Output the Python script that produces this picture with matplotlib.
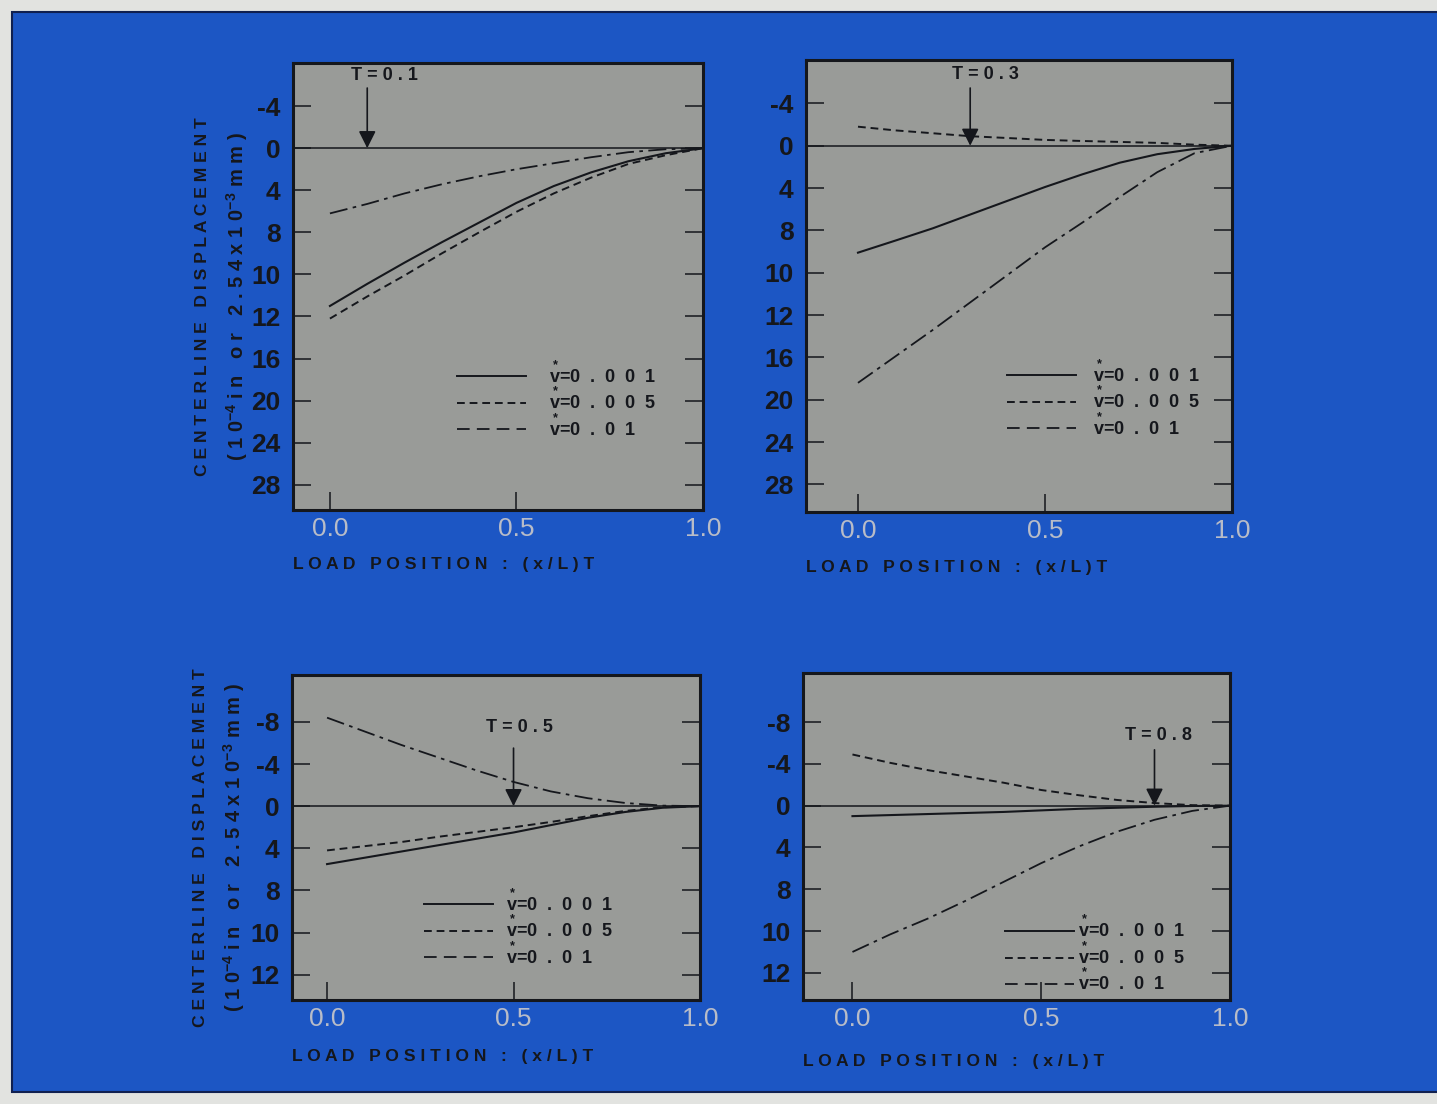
import matplotlib
matplotlib.use("Agg")
import matplotlib.pyplot as plt
import numpy as np
from matplotlib.lines import Line2D
from matplotlib.patches import Rectangle

plt.rcParams['font.family'] = ['Liberation Sans', 'DejaVu Sans']
plt.rcParams['mathtext.fontset'] = 'custom'
plt.rcParams['mathtext.rm'] = 'Liberation Sans:bold'
plt.rcParams['mathtext.it'] = 'Liberation Sans:bold'
plt.rcParams['mathtext.bf'] = 'Liberation Sans:bold'

# load position (x/L)T
load_pos = [0.0, 0.1, 0.2, 0.3, 0.4, 0.5, 0.6, 0.7, 0.8, 0.9, 1.0]

# centerline displacement (tick-label units)
t01_v001 = [11.5, 10.45, 9.44, 8.47, 7.07, 5.2, 3.6, 2.3, 1.24, 0.48, 0.0]
t01_v005 = [12.2, 11.05, 10.05, 9.0, 8.0, 6.05, 4.3, 2.8, 1.5, 0.67, 0.0]
t01_v01 = [6.2, 5.3, 4.3, 3.43, 2.67, 2.0, 1.43, 0.86, 0.38, 0.1, 0.0]

t03_v001 = [9.05, 8.48, 7.8, 6.5, 5.2, 3.9, 2.7, 1.6, 0.8, 0.3, 0.0]
t03_v005 = [-1.8, -1.45, -1.18, -0.9, -0.73, -0.55, -0.45, -0.36, -0.27, -0.1, 0.0]
t03_v01 = [18.4, 15.9, 13.4, 11.4, 10.1, 8.8, 7.26, 4.84, 2.5, 0.7, 0.0]

t05_v001 = [5.5, 4.9, 4.3, 3.7, 3.1, 2.5, 1.8, 1.1, 0.55, 0.15, 0.0]
t05_v005 = [4.2, 3.8, 3.4, 2.9, 2.45, 2.0, 1.5, 0.95, 0.45, 0.1, 0.0]
t05_v01 = [-8.4, -7.1, -5.8, -4.6, -3.4, -2.3, -1.4, -0.75, -0.3, -0.05, 0.0]

t08_v001 = [1.0, 0.9, 0.8, 0.7, 0.6, 0.45, 0.3, 0.2, 0.1, 0.03, 0.0]
t08_v005 = [-4.9, -4.1, -3.4, -2.8, -2.2, -1.5, -1.0, -0.55, -0.25, -0.05, 0.0]
t08_v01 = [11.0, 10.16, 9.4, 8.55, 7.3, 5.5, 3.9, 2.5, 1.35, 0.5, 0.0]

# the y ticks are evenly spaced but their labels are not
top_ticks = [-4, 0, 4, 8, 10, 12, 16, 20, 24, 28]
bottom_ticks = [-8, -4, 0, 4, 8, 10, 12]
top_anchors = [-12, -8, -4, 0, 4, 8, 10, 12, 16, 20, 24, 28, 32, 36]
bottom_anchors = [-16, -12, -8, -4, 0, 4, 8, 10, 12, 16, 20]

x_ticks = [0.0, 0.5, 1.0]
x_tick_labels = ["0.0", "0.5", "1.0"]

legend_labels = [r"$\overset{*}{v}$=0  .  0  0  1",
                 r"$\overset{*}{v}$=0  .  0  0  5",
                 r"$\overset{*}{v}$=0  .  0  1"]

BLUE = '#1c56c4'
GREY = '#999b98'
INK = '#15171c'

W, H = 1437, 1104
fig = plt.figure(figsize=(W / 100, H / 100), dpi=100)
fig.patch.set_facecolor('#e2e3e0')
fig.add_artist(Rectangle((12 / W, 12 / H), 1.0, 1080 / H, transform=fig.transFigure,
                         facecolor=BLUE, edgecolor='#102050', lw=1.5, zorder=0))


def make_scale(anchors):
    pos = np.arange(len(anchors), dtype=float)
    fwd = lambda v: np.interp(v, anchors, pos)
    inv = lambda p: np.interp(p, pos, anchors)
    return fwd, inv


def draw_panel(rect, T, v001, v005, v01, ticks, anchors, ylim, xlim,
               leg_xy, leg_pad, t_text, t_tail, xlab_y, ylabel=None):
    ax = fig.add_axes(rect)
    ax.set_facecolor(GREY)
    ax.set_yscale('function', functions=make_scale(anchors))

    ax.axhline(0, color=INK, lw=1.1, zorder=2)
    ax.plot(load_pos, v001, color=INK, lw=1.5, ls='-', zorder=3)
    ax.plot(load_pos, v005, color=INK, lw=1.4, ls=(0, (4, 2.5)), zorder=3)
    ax.plot(load_pos, v01, color=INK, lw=1.3, ls=(0, (10, 3, 2, 3)), zorder=3)

    ax.set_xlim(*xlim)
    ax.set_ylim(*ylim)
    ax.set_yticks(ticks)
    ax.set_yticklabels([str(t) for t in ticks], fontsize=19, fontweight='bold', color=INK)
    ax.set_xticks(x_ticks)
    ax.set_xticklabels(x_tick_labels, fontsize=19, color='#b8bcc8')
    ax.yaxis.set_minor_locator(matplotlib.ticker.NullLocator())
    ax.tick_params(axis='y', direction='in', length=13, width=1.1, color=INK,
                   left=True, right=True, pad=9)
    ax.tick_params(axis='x', direction='in', length=13, width=1.1, color=INK, pad=5)
    for s in ax.spines.values():
        s.set_linewidth(2.2)
        s.set_color(INK)

    handles = [Line2D([], [], color=INK, lw=1.4, ls='-'),
               Line2D([], [], color=INK, lw=1.4, ls=(0, (4, 2.5))),
               Line2D([], [], color=INK, lw=1.3, ls=(0, (7, 4)))]
    leg = ax.legend(handles, legend_labels, loc='upper left', bbox_to_anchor=leg_xy,
                    frameon=False, fontsize=13, handlelength=3.8, handletextpad=leg_pad,
                    labelspacing=0.0, borderpad=0, borderaxespad=0)
    for t in leg.get_texts():
        t.set_color(INK)
        t.set_fontweight('bold')

    ax.annotate('', xy=(T, 0), xycoords='data', xytext=(T, t_tail),
                textcoords=('data', 'axes fraction'),
                arrowprops=dict(arrowstyle='-|>', color=INK, lw=1.2,
                                mutation_scale=26, shrinkA=0, shrinkB=0), zorder=4)
    ax.text(t_text[0], t_text[1], "T = 0 . " + str(T)[-1], transform=ax.get_xaxis_transform(),
            ha='center', va='center', fontsize=13, fontweight='bold', color=INK)

    ax.text(0.0, xlab_y, "L O A D   P O S I T I O N   :   ( x / L ) T",
            transform=ax.transAxes, ha='left', va='center', fontsize=12.6,
            fontweight='bold', color=INK)

    if ylabel is not None:
        ax.text(ylabel[0], ylabel[2], "C E N T E R L I N E   D I S P L A C E M E N T",
                transform=ax.transAxes, rotation=90, ha='center', va='center',
                fontsize=12.6, fontweight='bold', color=INK)
        ax.text(ylabel[1], ylabel[2],
                r"( 1 0$^{-4}$ i n   o r   2 . 5 4 x 1 0$^{-3}$ m m )",
                transform=ax.transAxes, rotation=90, ha='center', va='center',
                fontsize=14.5, fontweight='bold', color=INK)
    return ax


draw_panel([293 / W, 1 - 510 / H, 410 / W, 447 / H], 0.1, t01_v001, t01_v005, t01_v01,
           top_ticks, top_anchors, (30.4, -8.1), (-0.099, 1.0),
           (0.40, 0.335), 1.3, (0.145, 0.973), 0.944, -0.123,
           ylabel=(-0.22, -0.137, 0.477))
draw_panel([806 / W, 1 - 512 / H, 426 / W, 452 / H], 0.3, t03_v001, t03_v005, t03_v01,
           top_ticks, top_anchors, (30.6, -8.1), (-0.139, 1.0),
           (0.472, 0.338), 0.95, (0.34, 0.967), 0.938, -0.122)
draw_panel([292 / W, 1 - 1000 / H, 408 / W, 325 / H], 0.5, t05_v001, t05_v005, t05_v01,
           bottom_ticks, bottom_anchors, (14.4, -12.45), (-0.094, 1.0),
           (0.324, 0.344), 0.75, (0.517, 0.837), 0.775, -0.175,
           ylabel=(-0.225, -0.142, 0.468))
draw_panel([803 / W, 1 - 1000 / H, 427 / W, 327 / H], 0.8, t08_v001, t08_v005, t08_v01,
           bottom_ticks, bottom_anchors, (14.6, -12.7), (-0.131, 1.0),
           (0.473, 0.26), 0.25, (0.81, 0.81), 0.765, -0.187)

fig.savefig("out.png", dpi=100, facecolor=fig.get_facecolor())
